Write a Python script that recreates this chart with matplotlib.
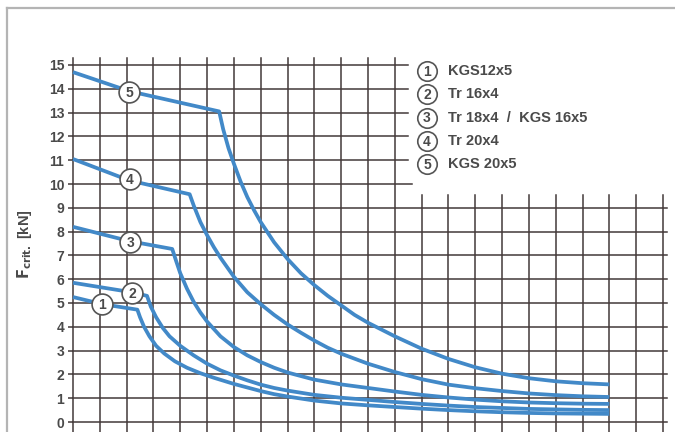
import numpy as np
import matplotlib.pyplot as plt
from matplotlib.lines import Line2D

plt.rcParams['font.family'] = ['Liberation Sans', 'DejaVu Sans']

# curves (x in grid units, y in kN)
x1 = [0, 1.1, 2.4, 2.5, 2.65, 2.85, 3.1, 3.4, 3.8, 4.25, 4.75, 5.25, 6.0, 6.5, 7.0, 7.5,
      8.0, 9.0, 10.0, 11.0, 12.0, 13.0, 14.0, 15.0, 16.0, 17.0, 18.0, 19.0, 20.0]
y1 = [5.25, 4.95, 4.72, 4.4, 4.0, 3.6, 3.2, 2.88, 2.55, 2.28, 2.05, 1.86, 1.6, 1.45, 1.3, 1.17,
      1.07, 0.9, 0.78, 0.7, 0.63, 0.56, 0.5, 0.45, 0.41, 0.38, 0.36, 0.35, 0.34]

x2 = [0, 2.2, 2.76, 2.9, 3.1, 3.35, 3.6, 4.0, 4.5, 5.0, 5.5, 6.0, 6.5, 7.0, 7.5, 8.0,
      9.0, 10.0, 11.0, 12.0, 13.0, 14.0, 15.0, 16.0, 17.0, 18.0, 19.0, 20.0]
y2 = [5.85, 5.45, 5.3, 4.85, 4.4, 3.95, 3.6, 3.2, 2.8, 2.45, 2.17, 1.95, 1.75, 1.57, 1.43, 1.32,
      1.14, 1.02, 0.93, 0.84, 0.76, 0.69, 0.63, 0.59, 0.55, 0.53, 0.51, 0.5]

x3 = [0, 2.1, 3.7, 3.85, 4.0, 4.25, 4.5, 4.75, 5.0, 5.5, 6.0, 6.5, 7.0, 7.5, 8.0, 9.0,
      10.0, 11.0, 12.0, 13.0, 14.0, 15.0, 16.0, 17.0, 18.0, 19.0, 20.0]
y3 = [8.2, 7.6, 7.27, 6.75, 6.25, 5.6, 5.05, 4.6, 4.22, 3.6, 3.15, 2.8, 2.52, 2.28, 2.08, 1.78,
      1.58, 1.43, 1.28, 1.14, 1.03, 0.94, 0.87, 0.82, 0.79, 0.77, 0.76]

x4 = [0, 2.1, 4.35, 4.5, 4.75, 5.0, 5.25, 5.5, 6.0, 6.5, 7.0, 7.5, 8.0, 8.5, 9.0, 9.5,
      10.0, 11.0, 12.0, 13.0, 14.0, 15.0, 16.0, 17.0, 18.0, 19.0, 20.0]
y4 = [11.05, 10.15, 9.57, 9.1, 8.4, 7.85, 7.35, 6.9, 6.1, 5.45, 4.95, 4.5, 4.1, 3.75, 3.42, 3.12,
      2.87, 2.45, 2.1, 1.8, 1.57, 1.42, 1.3, 1.2, 1.13, 1.08, 1.05]

x5 = [0, 2.1, 5.45, 5.6, 5.8, 6.0, 6.25, 6.5, 6.75, 7.0, 7.5, 8.0, 8.5, 9.0, 9.5, 10.0,
      10.5, 11.0, 12.0, 13.0, 14.0, 15.0, 16.0, 17.0, 18.0, 19.0, 20.0]
y5 = [14.7, 13.9, 13.05, 12.3, 11.5, 10.85, 10.1, 9.45, 8.9, 8.4, 7.55, 6.85, 6.25, 5.75, 5.3, 4.9,
      4.5, 4.17, 3.6, 3.08, 2.65, 2.3, 2.03, 1.84, 1.71, 1.63, 1.58]

curves = [(x1, y1), (x2, y2), (x3, y3), (x4, y4), (x5, y5)]
curve_ids = ["1", "2", "3", "4", "5"]
label_x = [1.08, 2.2, 2.13, 2.13, 2.09]
label_y = [4.96, 5.42, 7.56, 10.2, 13.87]
legend_names = ["KGS12x5", "Tr 16x4", "Tr 18x4  /  KGS 16x5", "Tr 20x4", "KGS 20x5"]
y_ticks = list(range(0, 16))

BLUE = "#4289c8"
GRID = "#433939"
TXT = "#4a4a4a"

fig = plt.figure(figsize=(6.75, 4.32), dpi=100)
ax = fig.add_axes([73 / 675, 10 / 432, 590 / 675, 357 / 432])
ax.set_xlim(0, 22)
ax.set_ylim(0, 15)
for s in ax.spines.values():
    s.set_visible(False)
ax.set_xticks([])
ax.set_yticks(y_ticks)
ax.tick_params(axis="y", length=3.8, width=1.1, color=GRID, pad=2.5,
               labelsize=10, labelcolor=TXT)
for t in ax.get_yticklabels():
    t.set_fontweight("bold")

# grid, with the upper right corner left free for the legend
for gx in range(0, 23):
    top = 15.3 if gx <= 12 else 9.55
    ax.plot([gx, gx], [-1, top], color=GRID, lw=1.1, clip_on=False, zorder=1)
for gy in y_ticks:
    right = 22.15 if gy <= 9 else (12.65 if gy == 10 else 12.5)
    ax.plot([0, right], [gy, gy], color=GRID, lw=1.1, clip_on=False, zorder=1)

for (cx, cy) in curves:
    ax.plot(cx, cy, color=BLUE, lw=2.7, solid_joinstyle="round",
            solid_capstyle="butt", zorder=3, clip_on=False)

for lx, ly, cid in zip(label_x, label_y, curve_ids):
    ax.plot(lx, ly, "o", ms=15, mfc="white", mec="#555555", mew=1.2, zorder=4)
    ax.text(lx, ly - 0.03, cid, ha="center", va="center", fontsize=10,
            fontweight="bold", color=TXT, zorder=5)

# legend
for i, (cid, name) in enumerate(zip(curve_ids, legend_names)):
    ly = 14.75 - i * 0.98
    ax.plot(13.2, ly, "o", ms=14, mfc="white", mec="#555555", mew=1.2,
            zorder=4, clip_on=False)
    ax.text(13.2, ly - 0.03, cid, ha="center", va="center", fontsize=10,
            fontweight="bold", color=TXT, zorder=5)
    ax.text(14.0, ly, name, ha="left", va="center", fontsize=10.5,
            fontweight="bold", color=TXT, zorder=5)

fig.text(25 / 675, 1 - 244 / 432, r"$\mathbf{F_{crit.}}$ [kN]",
         rotation=90, ha="center", va="center", fontsize=10.5,
         fontweight="bold", color=TXT)

# light frame of the drawing
fig.add_artist(Line2D([7 / 675, 1.0], [1 - 8 / 432, 1 - 8 / 432],
                      color="#b4b4b4", lw=1.6, transform=fig.transFigure))
fig.add_artist(Line2D([7 / 675, 7 / 675], [0, 1 - 8 / 432],
                      color="#b4b4b4", lw=1.6, transform=fig.transFigure))

fig.savefig("out.png", dpi=100)
